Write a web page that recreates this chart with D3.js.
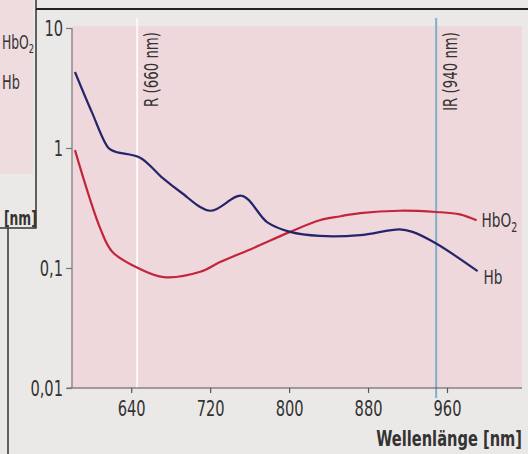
<!DOCTYPE html>
<html>
<head>
<meta charset="utf-8">
<script src="https://cdn.jsdelivr.net/npm/d3@7"></script>
<style>
  body { margin: 0; background: #ebe9e7; }
  text { font-family: "Liberation Sans Narrow", "DejaVu Sans Condensed", "Roboto Condensed", sans-serif; fill: #333; }
</style>
</head>
<body>
<div id="chart"></div>
<script>
// wavelength [nm] and absorption values
const hbWave  = [583, 600, 617, 624, 649, 672, 690, 720, 752, 778, 801, 831, 872, 912, 925, 949, 991];
const hbVal   = [4.3, 2.0, 1.0, 0.93, 0.83, 0.56, 0.43, 0.30, 0.40, 0.24, 0.20, 0.185, 0.188, 0.21, 0.20, 0.16, 0.094];
const hbo2Wave = [583, 609, 621, 649, 673, 710, 730, 764, 801, 831, 852, 872, 912, 949, 973, 990];
const hbo2Val  = [0.96, 0.21, 0.136, 0.098, 0.084, 0.093, 0.112, 0.147, 0.20, 0.25, 0.27, 0.287, 0.30, 0.293, 0.28, 0.25];
const xTicks = [640, 720, 800, 880, 960];
const yTicks = [0.01, 0.1, 1, 10];
const yTickLabels = ["0,01", "0,1", "1", "10"];
// marker lines: position on the drawn scale, label text
const markers = [
  {wave: 646, label: "R (660 nm)", color: "#fbf7f6"},
  {wave: 949, label: "IR (940 nm)", color: "#7fb0c6"}
];

const W = 528, H = 454;
const svg = d3.select("#chart").append("svg")
    .attr("width", W).attr("height", H);

// squeeze text horizontally (the printed font is very condensed)
function narrow(sel, k) {
  sel.each(function() {
    const t = d3.select(this);
    const tx = +t.attr("x") || 0;
    t.attr("x", tx / k).attr("transform", `scale(${k},1)`);
  });
}

// scanned page: frame of the neighbouring figure on the left
svg.append("rect").attr("x", 0).attr("y", 0).attr("width", 33).attr("height", 174).attr("fill", "#efdcdf");
svg.append("path").attr("d", "M36,0V228H0").attr("fill", "none").attr("stroke", "#333").attr("stroke-width", 1.5);
svg.append("path").attr("d", "M36,9H528").attr("fill", "none").attr("stroke", "#222").attr("stroke-width", 2);
svg.append("path").attr("d", "M8,228V454").attr("fill", "none").attr("stroke", "#333").attr("stroke-width", 1.5);
const side = svg.append("text").attr("x", 2).attr("y", 49).attr("font-size", 19);
side.append("tspan").text("HbO");
side.append("tspan").attr("font-size", 13).attr("dy", 4).text("2");
narrow(side, 0.72);
svg.append("text").attr("x", 2).attr("y", 89).attr("font-size", 19).text("Hb").call(narrow, 0.75);
svg.append("text").attr("x", 4).attr("y", 225).attr("font-size", 19).attr("font-weight", "bold").attr("fill", "#222")
    .text("[nm]").call(narrow, 0.72);

const margin = {top: 26, right: 6, bottom: 66, left: 72};
const x = d3.scaleLinear().domain([580, 1036]).range([margin.left, W - margin.right]);
const y = d3.scaleLog().domain([0.01, 10]).range([388, 28]);

// pink plot area
svg.append("rect")
    .attr("x", x(580)).attr("y", margin.top)
    .attr("width", x(1036) - x(580)).attr("height", y(0.01) - margin.top)
    .attr("fill", "#efd8dc");

// marker lines
markers.forEach((m, i) => {
  svg.append("line")
      .attr("x1", x(m.wave)).attr("x2", x(m.wave))
      .attr("y1", 18).attr("y2", i === 0 ? y(0.01) : y(0.01) + 10)
      .attr("stroke", m.color).attr("stroke-width", 2);
  svg.append("text")
      .attr("transform", `translate(${x(m.wave) + 21},32) rotate(-90) scale(0.78,1)`)
      .attr("text-anchor", "end")
      .attr("font-size", 19)
      .text(m.label);
});

// axes
const xAxis = d3.axisBottom(x).tickValues(xTicks).tickSize(5).tickPadding(7);
svg.append("g")
    .attr("transform", `translate(0,${y(0.01)})`)
    .call(xAxis)
    .call(g => g.select(".domain").attr("d", `M67,0H${W - 6}`))
    .call(g => g.selectAll("line, path").attr("stroke", "#555").attr("stroke-width", 1.2))
    .call(g => g.selectAll("text").attr("font-size", 22).attr("fill", "#333")
        .attr("font-family", "'Liberation Sans Narrow', 'DejaVu Sans Condensed', sans-serif")
        .call(narrow, 0.74));

const yAxis = d3.axisLeft(y).tickValues(yTicks).tickFormat((d, i) => yTickLabels[i]).tickSize(6).tickPadding(3);
svg.append("g")
    .attr("transform", `translate(${margin.left},0)`)
    .call(yAxis)
    .call(g => g.select(".domain").attr("d", `M0,${y(10)}V${y(0.01)}`))
    .call(g => g.selectAll("line, path").attr("stroke", "#777").attr("stroke-width", 1.2))
    .call(g => g.selectAll("text").attr("font-size", 22).attr("fill", "#333")
        .attr("font-family", "'Liberation Sans Narrow', 'DejaVu Sans Condensed', sans-serif")
        .call(narrow, 0.74));

// curves
const line = d3.line()
    .x(d => x(d[0]))
    .y(d => y(d[1]))
    .curve(d3.curveCatmullRom.alpha(0.5));

svg.append("path")
    .datum(d3.zip(hbo2Wave, hbo2Val))
    .attr("d", line)
    .attr("fill", "none")
    .attr("stroke", "#c3253d")
    .attr("stroke-width", 2.2);

svg.append("path")
    .datum(d3.zip(hbWave, hbVal))
    .attr("d", line)
    .attr("fill", "none")
    .attr("stroke", "#26256a")
    .attr("stroke-width", 2.2);

// curve labels
const lHbo2 = svg.append("text")
    .attr("x", x(hbo2Wave[hbo2Wave.length - 1]) + 5)
    .attr("y", y(hbo2Val[hbo2Val.length - 1]) + 7)
    .attr("font-size", 20);
lHbo2.append("tspan").text("HbO");
lHbo2.append("tspan").attr("font-size", 14).attr("dy", 5).text("2");
narrow(lHbo2, 0.76);

svg.append("text")
    .attr("x", x(hbWave[hbWave.length - 1]) + 6)
    .attr("y", y(hbVal[hbVal.length - 1]) + 13)
    .attr("font-size", 20)
    .text("Hb")
    .call(narrow, 0.76);

// axis title
svg.append("text")
    .attr("x", W - 6).attr("y", 446)
    .attr("text-anchor", "end")
    .attr("font-size", 22)
    .attr("font-weight", "bold")
    .attr("fill", "#222")
    .text("Wellenlänge [nm]")
    .call(narrow, 0.74);
</script>
</body>
</html>
